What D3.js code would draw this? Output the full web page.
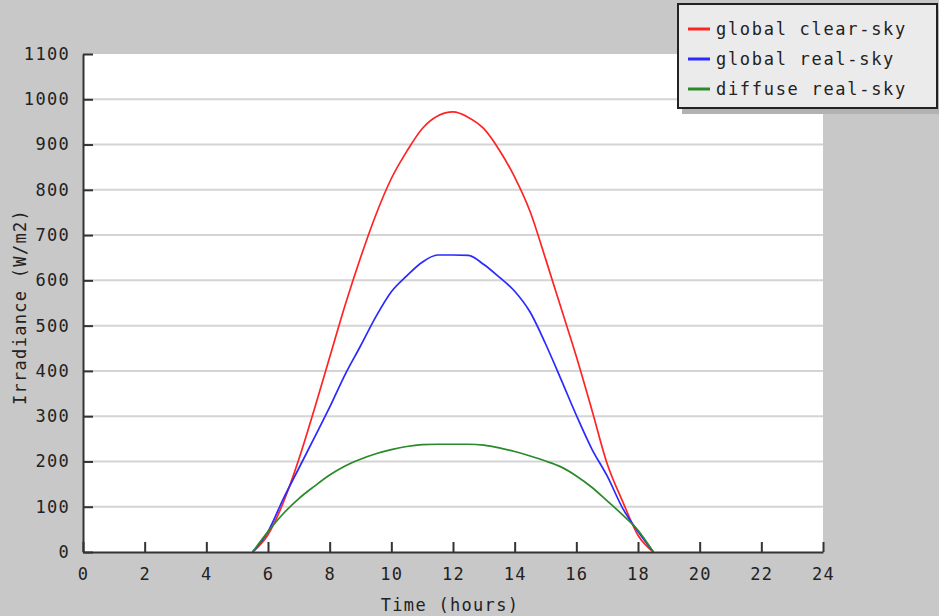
<!DOCTYPE html>
<html>
<head>
<meta charset="utf-8">
<script src="https://cdn.jsdelivr.net/npm/d3@7"></script>
<style>
  html, body { margin: 0; padding: 0; background: #c8c8c8; }
  svg { display: block; font-family: "DejaVu Sans Mono", monospace; }
</style>
</head>
<body>
<svg id="chart"></svg>
<script>
const hours = [5.5, 6, 6.5, 7, 7.5, 8, 8.5, 9, 9.5, 10, 10.5, 11, 11.5, 12,
  12.5, 13, 13.5, 14, 14.5, 15, 15.5, 16, 16.5, 17, 17.5, 18, 18.5];

const globalClear = [0, 38, 110, 205, 315, 430, 545, 650, 745, 825, 885, 935, 963, 972,
  960, 935, 888, 828, 752, 648, 540, 432, 315, 195, 112, 37, 0];
const globalReal = [0, 45, 118, 185, 252, 320, 392, 455, 520, 575, 610, 640, 656, 656,
  655, 635, 607, 576, 530, 460, 382, 302, 228, 168, 97, 45, 0];
const diffuseReal = [0, 45, 85, 118, 145, 170, 190, 205, 217, 226, 233, 237, 238, 238,
  238, 236, 230, 222, 212, 201, 188, 168, 143, 113, 82, 48, 0];

const xTicks = d3.range(0, 25, 2);
const yTicks = d3.range(0, 1101, 100);

const series = [
  {name: 'global clear-sky', color: '#ff2424', values: globalClear},
  {name: 'global real-sky', color: '#2a2aff', values: globalReal},
  {name: 'diffuse real-sky', color: '#2a8a2a', values: diffuseReal}
];

const width = 939, height = 616;
const plot = {left: 83, right: 823, top: 54, bottom: 552};

const x = d3.scaleLinear().domain([0, 24]).range([plot.left, plot.right]);
const y = d3.scaleLinear().domain([0, 1100]).range([plot.bottom, plot.top]);

const svg = d3.select('svg#chart')
  .attr('width', width)
  .attr('height', height);

svg.append('rect')
  .attr('x', plot.left).attr('y', plot.top)
  .attr('width', plot.right - plot.left)
  .attr('height', plot.bottom - plot.top)
  .attr('fill', '#fff');

// horizontal grid only
svg.append('g')
  .selectAll('line')
  .data(yTicks.filter(v => v > 0 && v < 1100))
  .join('line')
  .attr('x1', plot.left).attr('x2', plot.right)
  .attr('y1', d => y(d)).attr('y2', d => y(d))
  .attr('stroke', '#d4d4d4')
  .attr('stroke-width', 2);

const line = d3.line()
  .x((d, i) => x(hours[i]))
  .y(d => y(d))
  .curve(d3.curveMonotoneX);

svg.append('g')
  .selectAll('path')
  .data(series)
  .join('path')
  .attr('d', d => line(d.values))
  .attr('fill', 'none')
  .attr('stroke', d => d.color)
  .attr('stroke-width', 1.7);

// axes, ticks pointing inward
const yAxis = svg.append('g')
  .attr('transform', `translate(${plot.left},0)`)
  .call(d3.axisLeft(y).tickValues(yTicks).tickFormat(d3.format('d'))
    .tickSizeInner(-10).tickSizeOuter(0).tickPadding(14));

const xAxis = svg.append('g')
  .attr('transform', `translate(0,${plot.bottom})`)
  .call(d3.axisBottom(x).tickValues(xTicks).tickFormat(d3.format('d'))
    .tickSizeInner(-10).tickSizeOuter(0).tickPadding(16));

[yAxis, xAxis].forEach(g => {
  g.select('.domain').attr('stroke', '#333').attr('stroke-width', 2);
  g.selectAll('.tick line').attr('stroke', '#333').attr('stroke-width', 2);
  g.selectAll('.tick text')
    .attr('fill', '#222')
    .style('font-size', '17px')
    .style('letter-spacing', '1.3px')
    .style('font-family', '"DejaVu Sans Mono", monospace');
});
yAxis.selectAll('.tick text').attr('dx', '1px');

svg.append('text')
  .attr('x', (plot.left + plot.right) / 2 - 3)
  .attr('y', 611)
  .attr('text-anchor', 'middle')
  .attr('fill', '#222')
  .style('font-size', '17px')
  .style('letter-spacing', '1.3px')
  .text('Time (hours)');

svg.append('text')
  .attr('transform', `translate(26,${(plot.top + plot.bottom) / 2 + 4}) rotate(-90)`)
  .attr('text-anchor', 'middle')
  .attr('fill', '#222')
  .style('font-size', '17px')
  .style('letter-spacing', '1.3px')
  .text('Irradiance (W/m2)');

// legend
const legend = svg.append('g').attr('transform', 'translate(678,4)');
legend.append('rect')
  .attr('x', 4).attr('y', 6)
  .attr('width', 259).attr('height', 104)
  .attr('fill', '#b2b2b2');
legend.append('rect')
  .attr('x', 0).attr('y', 0)
  .attr('width', 259).attr('height', 104)
  .attr('fill', '#ebebeb')
  .attr('stroke', '#222')
  .attr('stroke-width', 2);

const item = legend.selectAll('g.item')
  .data(series)
  .join('g')
  .attr('class', 'item')
  .attr('transform', (d, i) => `translate(0,${25 + i * 30})`);

item.append('line')
  .attr('x1', 10).attr('x2', 32)
  .attr('stroke', d => d.color)
  .attr('stroke-width', 3);

item.append('text')
  .attr('x', 38).attr('y', 6)
  .attr('fill', '#222')
  .style('font-size', '17px')
  .style('letter-spacing', '1.7px')
  .text(d => d.name);
</script>
</body>
</html>
